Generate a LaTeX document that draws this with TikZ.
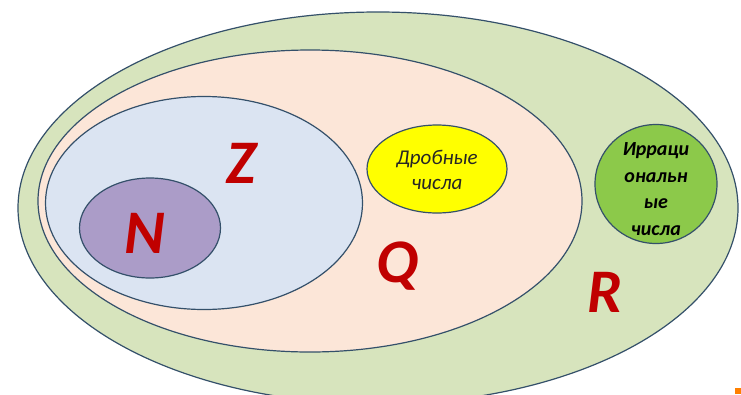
\documentclass[tikz,border=0pt]{standalone}
\usepackage{fontspec}
\setmainfont{Carlito}
\usetikzlibrary{shapes.geometric}
\definecolor{rfill}{HTML}{D7E4BD}
\definecolor{qfill}{HTML}{FCE6D8}
\definecolor{zfill}{HTML}{DBE4F2}
\definecolor{nfill}{HTML}{AB9CC8}
\definecolor{yfill}{HTML}{FFFF00}
\definecolor{gfill}{HTML}{8CC94A}
\definecolor{edge}{HTML}{34506A}
\definecolor{lab}{HTML}{C00000}
\tikzset{
  setbox/.style={draw=edge, line width=1.2pt, ellipse, inner sep=0pt},
  biglab/.style={text=lab, font=\fontsize{62}{62}\selectfont\bfseries\itshape},
}
\begin{document}
\begin{tikzpicture}[x=1pt,y=-1pt]
\useasboundingbox (0,0) rectangle (741,394);
\fill[white] (0,0) rectangle (741,394);
\begin{scope}
\clip (0,0) rectangle (741,394);
\node[setbox, fill=rfill, minimum width=720pt, minimum height=392pt] (R) at (378,208) {};
\end{scope}
\node[setbox, fill=qfill, minimum width=544pt, minimum height=302pt] (Q) at (310,201) {};
\node[setbox, fill=zfill, minimum width=317pt, minimum height=213pt] (Z) at (204,203) {};
\node[setbox, fill=nfill, minimum width=141pt, minimum height=100pt] (N) at (150,228) {};
\node[setbox, fill=yfill, minimum width=140pt, minimum height=88pt] (D) at (437,169) {};
\node[align=center, font=\fontsize{21}{25}\selectfont\itshape, text=black!85] (Dt) at (437,170) {Дробные\\числа};
\node[setbox, fill=gfill, minimum width=122pt, minimum height=119pt] (I) at (656,184) {};
\node[align=center, font=\fontsize{20}{26.5}\selectfont\bfseries\itshape] (It) at (656,189) {Ирраци\\ональн\\ые\\числа};
\node[biglab] (lz) at (241,163) {Z};
\node[biglab] (ln) at (145,233) {N};
\node[biglab] (lq) at (397,266) {Q};
\node[biglab] (lr) at (605,292) {R};
\fill[orange] (735,388) rectangle (741,394);
\end{tikzpicture}
\end{document}
